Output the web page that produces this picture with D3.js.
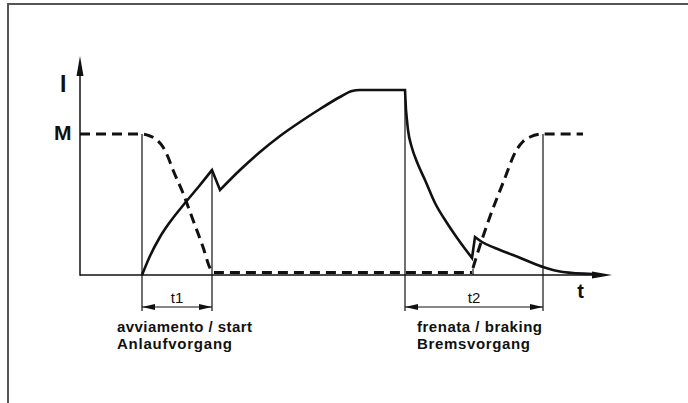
<!DOCTYPE html>
<html><head><meta charset="utf-8">
<script src="https://cdn.jsdelivr.net/npm/d3@7"></script>
<style>
html,body{margin:0;padding:0;background:#fff;}
svg{display:block;font-family:"Liberation Sans",Arial,Helvetica,sans-serif;}
</style>
</head><body>
<svg id="chart" width="688" height="403"></svg>
<script>
// ---- data (time units, current/torque units) ----
const currentStart = [[12.4,0],[14,3.8],[16,7.6],[18,10.6],[21,14.4],[24,18],[26.4,21]];
const currentRun   = [[28,17],[32,21],[36,24.6],[40,27.8],[44,30.6],[48,33.2],[52,35.6],[54.4,36.8],[56,37],[65,37]];
const currentBrake = [[65.2,33],[65.6,29],[66.4,25.4],[67.4,22.6],[69,19],[71,14.4],[73.4,10.4],[76,6.6],[78.4,3.4]];
const currentTail  = [[79,7.6],[80.4,6.6],[83,5.4],[86.6,4],[90,2.6],[92.6,1.6],[96.6,0.6],[102.6,0.2]];
const torqueStart  = [[0,28.2],[12.4,28.2],[14,27.8],[15.4,27],[16.6,25.6],[17.6,23.6],[18.6,21],[20.6,16.4],[22.6,11],[24.6,5.6],[26,1.4],[26.6,0.5],[78.4,0.5]];
const torqueBrake  = [[78.6,1.4],[79.3,3.7],[82,11.7],[84.6,18.4],[87.3,25],[88.6,26.7],[90,27.6],[92.6,28.2],[100.6,28.2]];
const torqueTick   = [78.6, 0, 1.3];
const guideTimes   = [12.4, 26.4, 65, 92.6];
const guideTops    = [28.2, 21, 37, 28.2];
const guideBottom  = -7.2;
const intervalStart  = [12.4, 65];
const intervalEnd    = [26.4, 92.6];
const intervalLabels = ["t1", "t2"];
const phaseX         = [7.4, 67.4];
const phaseTop       = ["avviamento / start", "frenata / braking"];
const phaseBottom    = ["Anlaufvorgang", "Bremsvorgang"];
const axisLabels     = {y:"I", level:"M", x:"t"};
const levelM = 28.2;

// ---- scales ----
const svg = d3.select("#chart");
const x = d3.scaleLinear().domain([0, 106.4]).range([80, 612]);
const y = d3.scaleLinear().domain([0, 44]).range([275, 55]);
const ink = "#111";

// frame
svg.append("line").attr("x1",7).attr("x2",688).attr("y1",4).attr("y2",4).attr("stroke","#555").attr("stroke-width",2);
svg.append("line").attr("x1",8).attr("x2",8).attr("y1",3).attr("y2",403).attr("stroke","#555").attr("stroke-width",2);

// axes (no ticks) using d3 axes
const gx = svg.append("g").attr("transform",`translate(0,${y(0)})`)
  .call(d3.axisBottom(x).tickValues([]).tickSizeOuter(0));
gx.select(".domain").attr("stroke",ink).attr("stroke-width",1.5).attr("d",`M${x(0)},0H${x(106.4)-10}`);
const gy = svg.append("g").attr("transform",`translate(${x(0)},0)`)
  .call(d3.axisLeft(y).tickValues([]).tickSizeOuter(0));
gy.select(".domain").attr("stroke",ink).attr("stroke-width",1.5).attr("d",`M0,${y(0)+0.75}V${y(44)+10}`);

// axis arrowheads
const tipX = x(106.4), baseY = y(0);
svg.append("path").attr("d",`M${tipX},${baseY}L${tipX-20},${baseY-3.5}L${tipX-20},${baseY+3.5}Z`).attr("fill",ink);
const tipY = y(44)+1, ax = x(0);
svg.append("path").attr("d",`M${ax},${tipY}L${ax-3.5},${tipY+20}L${ax+3.5},${tipY+20}Z`).attr("fill",ink);

// guide lines
svg.append("g").selectAll("line").data(guideTimes).join("line")
  .attr("x1",d=>x(d)).attr("x2",d=>x(d))
  .attr("y1",(d,i)=>y(guideTops[i])).attr("y2",y(guideBottom))
  .attr("stroke",ink).attr("stroke-width",1.2);

// curves
const lineGen = d3.line().x(d=>x(d[0])).y(d=>y(d[1])).curve(d3.curveMonotoneX);
function joined(segs){
  return segs.map((s,i)=>{const p=lineGen(s); return i? p.replace(/^M/,"L") : p;}).join("");
}
svg.append("path").attr("d", joined([currentStart,currentRun,currentBrake,currentTail]))
  .attr("fill","none").attr("stroke",ink).attr("stroke-width",2.6).attr("stroke-linejoin","miter");

svg.append("path").attr("d", lineGen(torqueStart))
  .attr("fill","none").attr("stroke",ink).attr("stroke-width",3).attr("stroke-dasharray","10,6");
svg.append("path").attr("d", lineGen(torqueBrake))
  .attr("fill","none").attr("stroke",ink).attr("stroke-width",3).attr("stroke-dasharray","10,6");
svg.append("line").attr("x1",x(torqueTick[0])).attr("x2",x(torqueTick[0]))
  .attr("y1",y(torqueTick[1])).attr("y2",y(torqueTick[2])).attr("stroke",ink).attr("stroke-width",1.2);

// interval dimension arrows
const dimY = y(-6.4);
intervalStart.forEach((s,i)=>{
  const a = x(s), b = x(intervalEnd[i]);
  svg.append("line").attr("x1",a).attr("x2",b).attr("y1",dimY).attr("y2",dimY).attr("stroke",ink).attr("stroke-width",1.2);
  svg.append("path").attr("d",`M${a},${dimY}L${a+13},${dimY-3}L${a+13},${dimY+3}Z`).attr("fill",ink);
  svg.append("path").attr("d",`M${b},${dimY}L${b-13},${dimY-3}L${b-13},${dimY+3}Z`).attr("fill",ink);
  svg.append("text").attr("x",(a+b)/2).attr("y",y(-5.5)).attr("text-anchor","middle")
    .attr("font-size",15).attr("fill",ink).text(intervalLabels[i]);
});

// phase labels
const topLen = [135, 125], botLen = [115, 113];
phaseX.forEach((p,i)=>{
  svg.append("text").attr("x",x(p)).attr("y",332).attr("font-size",15).attr("font-weight","bold").attr("fill",ink)
    .attr("textLength",topLen[i]).attr("lengthAdjust","spacing").text(phaseTop[i]);
  svg.append("text").attr("x",x(p)).attr("y",349).attr("font-size",15).attr("font-weight","bold").attr("fill",ink)
    .attr("textLength",botLen[i]).attr("lengthAdjust","spacing").text(phaseBottom[i]);
});

// axis labels
svg.append("text").attr("x",63.3).attr("y",92).attr("text-anchor","middle").attr("font-size",23).attr("font-weight","bold").attr("fill",ink).text(axisLabels.y);
svg.append("text").attr("x",62.8).attr("y",y(levelM)+5.5).attr("text-anchor","middle").attr("font-size",21).attr("font-weight","bold").attr("fill",ink).text(axisLabels.level);
svg.append("text").attr("x",580.5).attr("y",298).attr("text-anchor","middle").attr("font-size",20).attr("font-weight","bold").attr("fill",ink).text(axisLabels.x);
</script>
</body></html>
